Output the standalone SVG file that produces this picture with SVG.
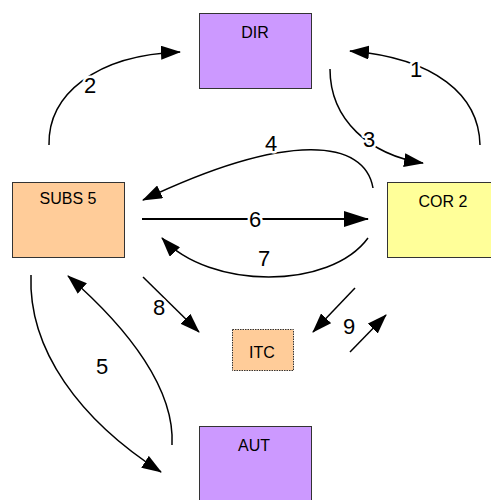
<svg xmlns="http://www.w3.org/2000/svg" width="491" height="500" viewBox="0 0 491 500">
  <defs>
    <marker id="head" viewBox="0 0 20 14" markerWidth="20" markerHeight="14" refX="19" refY="7" orient="auto" markerUnits="userSpaceOnUse">
      <path d="M0,0 L20,7 L0,14 z" fill="#000"/>
    </marker>
    <marker id="headBig" viewBox="0 0 25 16" markerWidth="25" markerHeight="16" refX="24" refY="8" orient="auto" markerUnits="userSpaceOnUse">
      <path d="M0,0 L25,8 L0,16 z" fill="#000"/>
    </marker>
  </defs>
  <style>
    .box { stroke: #333; stroke-width: 1; }
    .dir { fill: #CC99FF; }
    .subs { fill: #FFCC99; }
    .cor { fill: #FFFF99; }
    .itc { fill: #FFCC99; stroke-dasharray: 1.5 1; }
    .name { font-family: "Liberation Sans", Arial, sans-serif; font-size: 16px; fill: #000; text-anchor: middle; }
    .edge { fill: none; stroke: #000; stroke-width: 1.5; marker-end: url(#head); }
    .num { font-family: "Liberation Sans", Arial, sans-serif; font-size: 22px; fill: #000; text-anchor: middle;
           stroke: #fff; stroke-width: 5; paint-order: stroke; stroke-linejoin: round; }
  </style>

  <rect width="491" height="500" fill="#fff"/>

  <g id="connectors">
    <!-- 1: COR 2 up to DIR -->
    <path class="edge" d="M480,145 C479,95 435,58 350,51"/>
    <!-- 2: SUBS 5 up to DIR -->
    <path class="edge" d="M49,145 C48,95 95,55 180,52"/>
    <!-- 3: DIR down to COR 2 -->
    <path class="edge" d="M330,69 C330,120 370,155 423,163"/>
    <!-- 4: COR 2 over to SUBS 5 -->
    <path class="edge" d="M373,188 C365,140 290,130 143,200"/>
    <!-- 6: SUBS 5 straight to COR 2 -->
    <path d="M142,219 L368,219" fill="none" stroke="#000" stroke-width="2" marker-end="url(#headBig)"/>
    <!-- 7: COR 2 under to SUBS 5 -->
    <path class="edge" d="M368,238 C330,290 210,290 162,238"/>
    <!-- 8: SUBS 5 to ITC -->
    <path class="edge" d="M143,277 L199,332"/>
    <!-- 9: COR 2 to ITC and back -->
    <path class="edge" d="M355,288 L313,332"/>
    <path class="edge" d="M350,352 L386,315"/>
    <!-- 5: SUBS 5 and AUT both ways -->
    <path class="edge" d="M31,275 C28,350 80,420 161,472"/>
    <path class="edge" d="M172,445 C175,390 130,330 68,276"/>

    <text class="num" x="416" y="77">1</text>
    <text class="num" x="90" y="93">2</text>
    <text class="num" x="369" y="147">3</text>
    <text class="num" x="271" y="151">4</text>
    <text class="num" x="102" y="374">5</text>
    <text class="num" x="255" y="227">6</text>
    <text class="num" x="264" y="266">7</text>
    <text class="num" x="159" y="315">8</text>
    <text class="num" x="349" y="334">9</text>
  </g>

  <g id="DIR">
    <rect class="box dir" x="199.5" y="13.5" width="112" height="75"/>
    <text class="name" x="255" y="38">DIR</text>
  </g>
  <g id="SUBS5">
    <rect class="box subs" x="12.5" y="182.5" width="112" height="75"/>
    <text class="name" x="68" y="204">SUBS 5</text>
  </g>
  <g id="COR2">
    <rect class="box cor" x="387.5" y="182.5" width="112" height="75"/>
    <text class="name" x="443" y="207">COR 2</text>
  </g>
  <g id="ITC">
    <rect class="box itc" x="232.5" y="329.5" width="61" height="41"/>
    <text class="name" x="262" y="358">ITC</text>
  </g>
  <g id="AUT">
    <rect class="box dir" x="199.5" y="426.5" width="112" height="75"/>
    <text class="name" x="254" y="451">AUT</text>
  </g>
</svg>
